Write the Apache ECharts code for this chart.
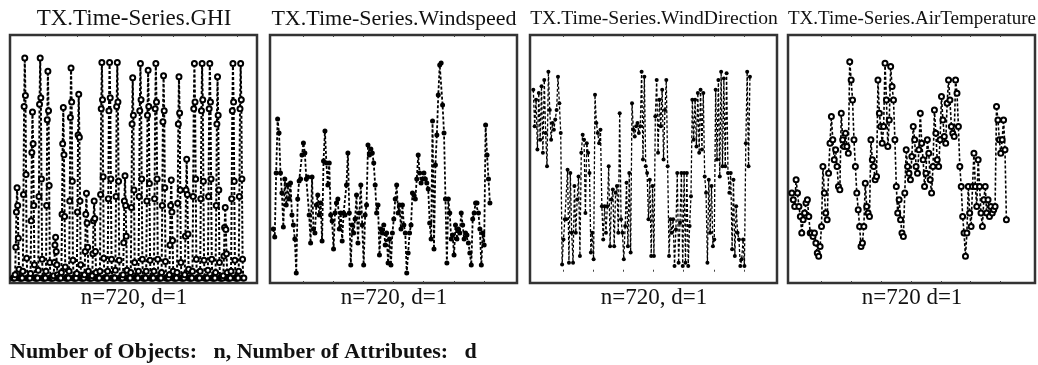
<!DOCTYPE html>
<html>
<head>
<meta charset="utf-8">
<script src="https://cdn.jsdelivr.net/npm/echarts@6/dist/echarts.min.js"></script>
<style>html,body{margin:0;background:#fff}#main{width:1038px;height:365px}</style>
</head>
<body>
<div id="main"></div>
<script>
// GHI, one row per day, sampled every 2 hours
var ghi = [
  0,0,0,15,140,300,410,330,180,40,0,0,
  0,0,0,30,380,780,1000,830,470,90,0,0,
  0,0,0,20,260,570,755,610,330,60,0,0,
  0,0,0,35,370,790,1000,820,450,85,0,0,
  0,0,0,30,330,720,940,760,420,70,0,0,
  0,0,0,10,70,150,185,120,60,15,0,0,
  0,0,0,25,290,610,775,560,280,50,0,0,
  0,0,0,30,350,730,955,800,440,80,0,0,
  0,0,0,20,300,650,835,640,350,60,0,0,
  0,0,0,15,120,290,385,250,140,30,0,0,
  0,0,0,10,110,260,350,270,120,25,0,0,
  0,0,0,30,380,770,980,810,460,90,0,0,
  0,0,0,30,360,760,980,820,450,85,0,0,
  0,0,0,35,370,780,980,800,440,80,0,0,
  0,0,0,15,160,350,465,330,190,35,0,0,
  0,0,0,25,320,700,910,740,400,70,0,0,
  0,0,0,30,370,760,975,810,450,85,0,0,
  0,0,0,30,350,740,945,780,430,80,0,0,
  0,0,0,30,360,770,975,800,450,85,0,0,
  0,0,0,25,330,710,920,760,410,75,0,0,
  0,0,0,15,150,330,445,300,170,30,0,0,
  0,0,0,25,340,700,915,750,400,70,0,0,
  0,0,0,15,190,400,540,380,200,40,0,0,
  0,0,0,30,370,770,975,800,450,85,0,0,
  0,0,0,30,360,760,975,810,440,80,0,0,
  0,0,0,35,370,770,975,800,450,85,0,0,
  0,0,0,25,330,700,915,740,400,70,0,0,
  0,0,0,10,100,230,320,220,110,25,0,0,
  0,0,0,30,360,760,975,800,440,80,0,0,
  0,0,0,30,370,770,975,810,450,85,0,0
];

var windSpeed = [
  2.7,2.3,5.5,8.2,7.5,5.5,4.5,2.8,5.2,3.9,4.9,4.2,5.0,3.4,2.9,2.2,0.5,4.2,5.1,5.2,
  6.4,7.0,6.5,5.2,5.3,3.4,2.0,5.3,2.7,2.5,3.9,4.4,3.4,4.0,2.1,6.1,7.6,6.0,4.9,6.0,
  3.4,3.1,1.7,3.5,4.0,4.2,2.7,3.5,2.1,3.5,3.4,4.9,6.5,3.5,0.9,2.9,2.5,3.2,4.4,2.0,
  3.5,4.9,2.9,0.9,3.4,3.9,6.9,6.4,6.7,6.5,6.0,4.9,3.5,3.9,1.4,2.7,2.5,2.9,1.9,2.5,
  1.0,2.2,0.9,2.5,3.2,4.2,4.9,3.5,3.9,2.7,3.9,2.9,2.5,0.5,1.5,2.5,2.9,4.5,4.4,4.2,
  5.2,6.4,5.5,5.0,5.2,5.5,5.2,5.0,4.7,3.0,2.2,8.1,1.7,5.9,7.4,9.4,10.9,11.0,8.9,7.5,
  4.2,1.0,4.2,3.5,2.2,2.4,1.4,2.9,2.2,2.7,2.5,3.5,2.9,2.2,2.5,2.4,2.0,1.5,0.9,3.2,
  3.5,4.0,4.0,3.5,2.7,0.9,2.5,1.9,7.9,6.4,5.2,4.0
];

var windDirection = [
  323,258,305,217,317,234,329,211,340,246,187,355,287,234,264,252,270,287,346,299,
  246,13,57,93,93,181,16,175,69,16,152,69,128,169,28,211,243,234,104,228,
  211,175,34,69,22,314,264,246,228,252,116,57,116,69,116,187,45,128,146,45,
  140,152,69,281,93,69,22,81,158,45,175,34,299,252,240,258,264,246,258,355,
  199,346,187,175,93,163,28,152,28,276,340,211,305,258,323,199,287,340,187,28,
  93,69,93,10,75,175,16,87,175,10,175,16,175,10,81,134,305,234,305,222,
  317,211,323,217,317,169,140,16,163,69,152,45,57,323,199,340,169,355,187,343,
  187,352,175,140,175,40,163,28,116,69,57,10,22,57,10,228,355,187,346
];

var airTemperature = [
  10.8,10.0,9.2,12.4,10.8,9.2,8.0,6.0,7.6,8.4,9.6,10.0,8.0,6.0,6.0,5.6,6.0,4.8,3.6,3.2,
  4.4,6.8,14.0,10.8,8.4,7.6,13.2,16.8,20.0,17.2,14.8,16.0,14.0,11.6,11.2,20.4,17.2,16.4,18.0,16.4,
  15.6,26.6,24.4,22.0,17.2,14.0,10.8,8.8,6.8,4.4,4.8,6.8,12.0,9.2,8.4,8.0,17.2,14.8,14.0,12.4,
  12.8,24.4,20.4,18.8,16.8,18.8,26.4,22.0,16.4,19.6,26.0,23.6,22.0,17.2,11.6,8.4,10.0,7.6,6.0,5.6,
  10.8,16.0,14.0,13.2,12.4,15.2,18.8,17.2,14.0,13.2,16.0,20.4,16.8,14.8,11.6,13.2,17.2,15.6,12.4,10.8,
  14.0,20.8,18.0,14.8,14.0,17.2,22.4,19.6,17.6,16.8,21.6,24.4,22.0,18.8,18.0,17.6,24.4,22.8,18.8,14.0,
  11.6,8.0,6.0,3.2,6.0,11.6,8.4,6.8,11.6,15.6,11.6,9.2,14.8,11.6,8.4,6.8,10.0,11.6,8.4,10.0,
  8.0,9.2,8.4,8.8,9.2,21.2,19.6,17.2,15.6,17.2,19.6,16.0,7.6
];

var titles = ['TX.Time-Series.GHI', 'TX.Time-Series.Windspeed',
  'TX.Time-Series.WindDirection', 'TX.Time-Series.AirTemperature'];
var captions = ['n=720, d=1', 'n=720, d=1', 'n=720, d=1', 'n=720 d=1'];
var hourTicks = [100, 200, 300, 400, 500, 600, 700];

var panels = [
  {data: ghi, left: 10, xMin: -10, xMax: 761, yMin: -23, yMax: 1105, titleSize: 23, lw: 2, sym: 5, mark: 'emptyCircle'},
  {data: windSpeed, left: 270, xMin: -11, xMax: 810, yMin: 0, yMax: 12.4, titleSize: 22, lw: 1.8, sym: 5, mark: 'circle'},
  {data: windDirection, left: 530, xMin: -11, xMax: 810, yMin: -20, yMax: 420, titleSize: 19.6, lw: 1.3, sym: 4, mark: 'circle'},
  {data: airTemperature, left: 788, xMin: -13, xMax: 816, yMin: 0, yMax: 29.8, titleSize: 19, lw: 1.6, sym: 5, mark: 'emptyCircle'}
];

function toPairs(arr) {
  return arr.map(function (v, i) { return [i * 720 / (arr.length - 1), v]; });
}

var grids = [], xAxes = [], yAxes = [], series = [], graphics = [];
panels.forEach(function (p, k) {
  grids.push({left: p.left, top: 35, width: 247, height: 248, show: true,
    borderColor: '#333', borderWidth: 2.5, backgroundColor: '#fff'});
  ['bottom', 'top'].forEach(function (pos) {
    xAxes.push({type: 'value', gridIndex: k, position: pos, min: p.xMin, max: p.xMax,
      axisLine: {show: false}, splitLine: {show: false}, axisLabel: {show: false},
      axisTick: {show: true, inside: true, length: 2, customValues: hourTicks,
        lineStyle: {color: '#444'}}});
  });
  yAxes.push({type: 'value', gridIndex: k, min: p.yMin, max: p.yMax,
    axisLine: {show: false}, splitLine: {show: false}, axisLabel: {show: false},
    axisTick: {show: false}});
  series.push({type: 'line', xAxisIndex: k * 2, yAxisIndex: k, data: toPairs(p.data),
    symbol: p.mark, symbolSize: p.sym, showSymbol: true, animation: false,
    itemStyle: {color: '#000', borderWidth: 1.4},
    lineStyle: {color: '#000', width: p.lw, type: [3, 2]}});
  var cx = p.left + 124;
  graphics.push({type: 'text', x: cx, y: 19, style: {text: titles[k],
    font: p.titleSize + 'px "Liberation Serif"', fill: '#111', align: 'center', verticalAlign: 'middle'}});
  graphics.push({type: 'text', x: cx, y: 298, style: {text: captions[k],
    font: '23px "Liberation Serif"', fill: '#111', align: 'center', verticalAlign: 'middle'}});
});
graphics.push({type: 'text', x: 10, y: 352, style: {
  text: 'Number of Objects:   n, Number of Attributes:   d',
  font: 'bold 22px "Liberation Serif"', fill: '#111', align: 'left', verticalAlign: 'middle'}});

var myChart = echarts.init(document.getElementById('main'));
myChart.setOption({
  animation: false,
  grid: grids,
  xAxis: xAxes,
  yAxis: yAxes,
  series: series,
  graphic: graphics
});
</script>
</body>
</html>
